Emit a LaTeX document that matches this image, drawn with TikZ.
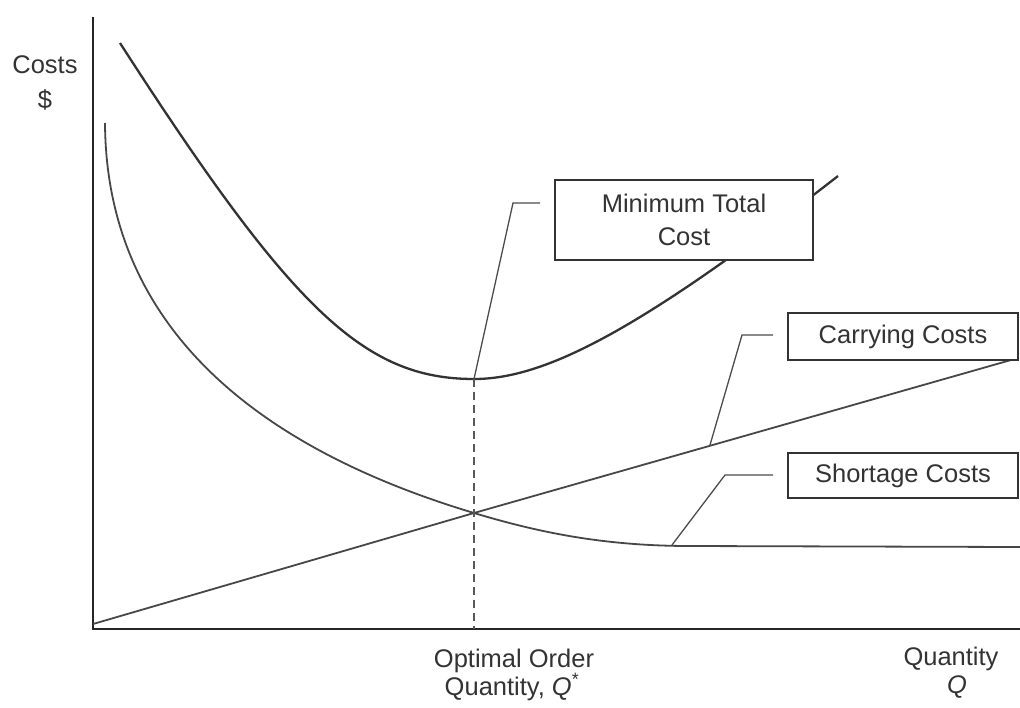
\documentclass[tikz,border=0pt]{standalone}
\usepackage{fontspec}
\setmainfont{Liberation Sans}
\begin{document}
\begin{tikzpicture}[x=1pt,y=-1pt,
  axis/.style={line width=2.6pt, draw=black!85},
  curve/.style={line width=1.8pt, draw=black!72},
  tcurve/.style={line width=2.3pt, draw=black!80},
  lbl/.style={font=\fontsize{25.5}{33}\selectfont, text=black!80, inner sep=0pt},
  callout/.style={lbl, draw=black!80, line width=1.5pt, fill=white, align=center},
  leader/.style={line width=1.3pt, draw=black!70},
  optline/.style={line width=1.3pt, draw=black!65, dash pattern=on 8pt off 5pt}]
\useasboundingbox (0,0) rectangle (1020,707);

% key points
\coordinate (tcmin) at (474,379);
\coordinate (cross) at (474,513);
\coordinate (origin) at (93,629);
\coordinate (ytop) at (93,17);
\coordinate (xend) at (1020,629);
\coordinate (cstart) at (93,624);
\coordinate (cend) at (1018,358);
\coordinate (qfoot) at (474,629);
\coordinate (tcstart) at (120,43);
\coordinate (tcend) at (838,176);
\coordinate (scstart) at (105,123);
\coordinate (scflat) at (690,546);
\coordinate (scend) at (1020,547);

% axes
\draw[axis] (ytop) -- (origin) -- (xend);

% carrying costs line
\draw[curve] (cstart) -- (cross) -- (cend);

% shortage costs curve
\draw[curve] (scstart) .. controls (106,303) and (224,438) .. (cross)
  .. controls (534,531) and (600,546) .. (scflat) -- (scend);

% total cost curve
\draw[tcurve] (tcstart) .. controls (292,310) and (364,379) .. (tcmin)
  .. controls (544,379) and (638,332) .. (tcend);

% optimal quantity dashed line
\draw[optline] (tcmin) -- (qfoot);

% callout boxes
\node[callout, minimum width=258pt, minimum height=80pt] (mtc) at (684,220) {Minimum Total\\Cost};
\node[callout, minimum width=230pt, minimum height=47pt] (carry) at (903,336.5) {Carrying Costs};
\node[callout, minimum width=230pt, minimum height=45pt] (short) at (903,475.5) {Shortage Costs};

% leaders
\coordinate (mtcL) at (540,203);
\coordinate (carryL) at (773,335);
\coordinate (shortL) at (773,475);
\coordinate (carryP) at (710,445);
\coordinate (shortP) at (672,545);
\draw[leader] (mtcL) -- (513,203) -- (tcmin);
\draw[leader] (carryL) -- (742,335) -- (carryP);
\draw[leader] (shortL) -- (725,475) -- (shortP);

% axis labels
\node[lbl, anchor=base] (costs) at (45,73) {Costs};
\node[lbl, anchor=base] (dollar) at (45,108) {\$};
\node[lbl, anchor=base] (opt1) at (514,667) {Optimal Order};
\node[lbl, anchor=base] (opt2) at (512,695) {Quantity, \textit{Q}\textsuperscript{*}};
\node[lbl, anchor=base] (qty1) at (951,665) {Quantity};
\node[lbl, anchor=base] (qty2) at (957,693) {\textit{Q}};
\end{tikzpicture}
\end{document}
